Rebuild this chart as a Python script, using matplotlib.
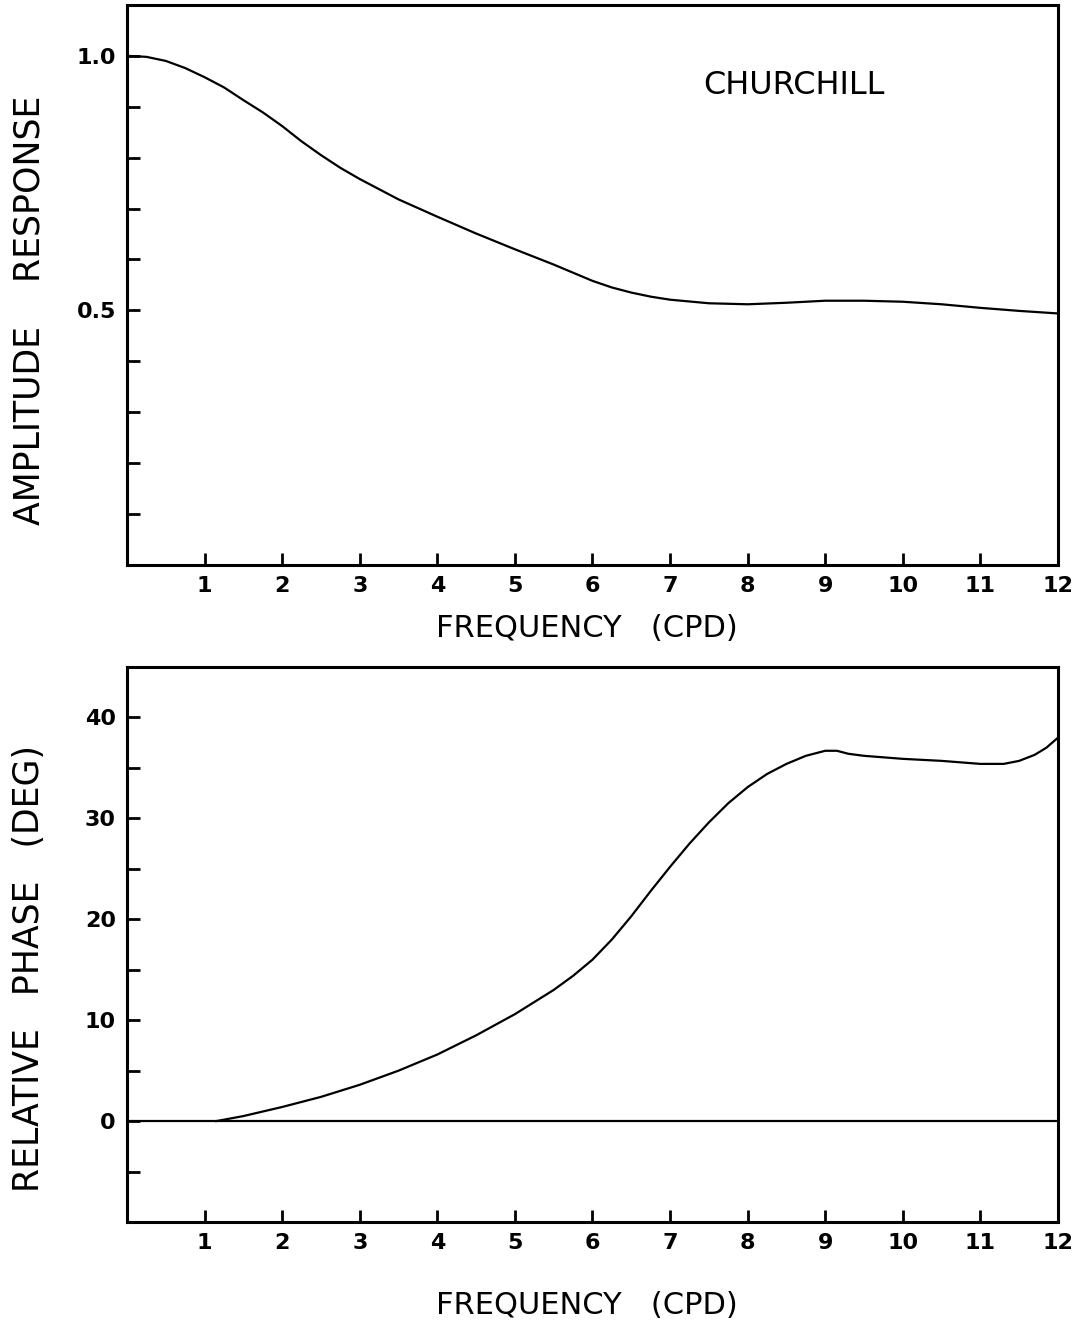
import matplotlib
matplotlib.use("Agg")
import matplotlib.pyplot as plt
from matplotlib.ticker import FixedLocator, FixedFormatter

# Amplitude response (top panel)
amp_freq = [0, 0.25, 0.5, 0.75, 1.0, 1.25, 1.5, 1.75, 2.0, 2.25, 2.5, 2.75,
            3.0, 3.5, 4.0, 4.5, 5.0, 5.5, 5.75, 6.0, 6.25, 6.5, 6.75, 7.0,
            7.5, 8.0, 8.5, 9.0, 9.5, 10.0, 10.5, 11.0, 11.5, 12.0]
amp_resp = [1.0, 0.998, 0.99, 0.976, 0.958, 0.938, 0.913, 0.889, 0.862,
            0.832, 0.805, 0.780, 0.758, 0.718, 0.684, 0.651, 0.620, 0.590,
            0.574, 0.558, 0.545, 0.535, 0.527, 0.521, 0.514, 0.512, 0.515,
            0.519, 0.519, 0.517, 0.512, 0.505, 0.499, 0.494]

# Relative phase (bottom panel)
ph_freq = [1.15, 1.5, 2.0, 2.5, 3.0, 3.5, 4.0, 4.5, 5.0, 5.5, 5.75, 6.0,
           6.25, 6.5, 6.75, 7.0, 7.25, 7.5, 7.75, 8.0, 8.25, 8.5, 8.75, 9.0,
           9.15, 9.3, 9.5, 10.0, 10.5, 11.0, 11.3, 11.5, 11.7, 11.85, 12.0]
ph_deg = [0.0, 0.5, 1.4, 2.4, 3.6, 5.0, 6.6, 8.5, 10.6, 13.0, 14.4, 16.0,
          18.0, 20.3, 22.8, 25.2, 27.5, 29.6, 31.5, 33.1, 34.4, 35.4, 36.2,
          36.7, 36.7, 36.4, 36.2, 35.9, 35.7, 35.4, 35.4, 35.7, 36.3, 37.0,
          38.0]

x_ticks = list(range(1, 13))
x_labels = [str(t) for t in x_ticks]

LW_SPINE = 2.2
LW_LINE = 1.6

fig = plt.figure(figsize=(10.81, 13.29), dpi=100)
fig.patch.set_facecolor("white")

ax1 = fig.add_axes([0.1175, 0.5749, 0.8612, 0.4214])
ax2 = fig.add_axes([0.1175, 0.0805, 0.8612, 0.4176])


def style_axes(ax):
    for sp in ax.spines.values():
        sp.set_linewidth(LW_SPINE)
        sp.set_color("black")
    ax.tick_params(axis="both", which="both", direction="in", length=9,
                   width=2.0, top=False, right=False)
    ax.tick_params(axis="y", pad=8)
    ax.tick_params(axis="x", pad=8)
    ax.xaxis.set_major_locator(FixedLocator(x_ticks))
    ax.xaxis.set_major_formatter(FixedFormatter(x_labels))
    ax.set_xlim(0, 12)
    for lbl in ax.get_xticklabels() + ax.get_yticklabels():
        lbl.set_fontsize(16)
        lbl.set_fontweight("bold")


# ── Top: amplitude ───────────────────────────────────────────────────────────
ax1.plot(amp_freq, amp_resp, color="black", linewidth=LW_LINE)
ax1.set_ylim(0, 1.1)
ax1.yaxis.set_major_locator(FixedLocator([0.5, 1.0]))
ax1.yaxis.set_major_formatter(FixedFormatter(["0.5", "1.0"]))
ax1.yaxis.set_minor_locator(FixedLocator([0.1, 0.2, 0.3, 0.4, 0.6, 0.7, 0.8, 0.9]))
style_axes(ax1)
ax1.text(0.716, 0.857, "CHURCHILL", transform=ax1.transAxes,
         fontsize=23, ha="center", va="center")

# ── Bottom: phase ────────────────────────────────────────────────────────────
ax2.axhline(0, color="black", linewidth=LW_LINE)
ax2.plot(ph_freq, ph_deg, color="black", linewidth=LW_LINE)
ax2.set_ylim(-10, 45)
ax2.yaxis.set_minor_locator(FixedLocator([-5, 5, 15, 25, 35]))
ax2.set_yticks([0, 10, 20, 30, 40])
ax2.set_yticklabels(["0", "10", "20", "30", "40"])
style_axes(ax2)

# Axis titles
fig.text(0.027, 1 - 310 / 1329, "AMPLITUDE    RESPONSE", rotation=90,
         fontsize=25, ha="center", va="center")
fig.text(0.027, 1 - 969 / 1329, "RELATIVE   PHASE   (DEG)", rotation=90,
         fontsize=25, ha="center", va="center")
fig.text(0.5425, 1 - 628 / 1329, "FREQUENCY   (CPD)",
         fontsize=22, ha="center", va="center")
fig.text(0.5425, 1 - 1305 / 1329, "FREQUENCY   (CPD)",
         fontsize=22, ha="center", va="center")

plt.savefig("out.png", dpi=100, facecolor=fig.get_facecolor())
plt.close()
